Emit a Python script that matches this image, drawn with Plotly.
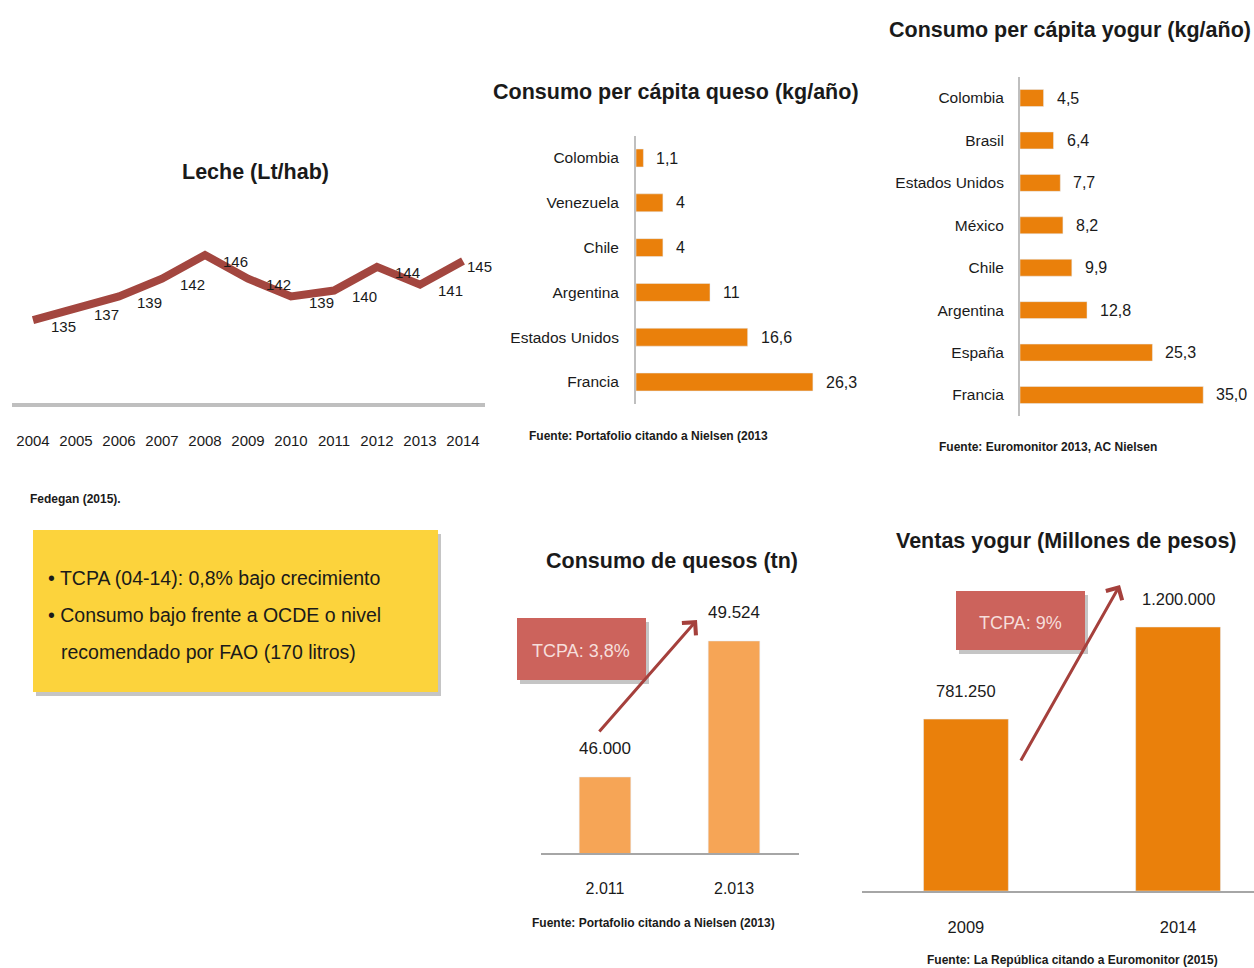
import plotly.graph_objects as go

# Leche (Lt/hab)
anios_leche = ["2004", "2005", "2006", "2007", "2008", "2009", "2010", "2011", "2012", "2013", "2014"]
leche = [135, 137, 139, 142, 146, 142, 139, 140, 144, 141, 145]

# Consumo per cápita queso (kg/año)
paises_queso = ["Colombia", "Venezuela", "Chile", "Argentina", "Estados Unidos", "Francia"]
queso = [1.1, 4, 4, 11, 16.6, 26.3]

# Consumo per cápita yogur (kg/año)
paises_yogur = ["Colombia", "Brasil", "Estados Unidos", "México", "Chile", "Argentina", "España", "Francia"]
yogur = [4.5, 6.4, 7.7, 8.2, 9.9, 12.8, 25.3, 35.0]

# Consumo de quesos (tn)
anios_quesos = ["2.011", "2.013"]
quesos_tn = [46000, 49524]

# Ventas yogur (Millones de pesos)
anios_ventas = ["2009", "2014"]
ventas = [781250, 1200000]

W, H = 1254, 968
FONT = "Liberation Sans, Arial, sans-serif"
NARANJA = "#EA800B"
NARANJA_CLARO = "#F6A556"
TXT = "#1a1a1a"


def px(x):
    return x / W


def py(y):
    return 1 - y / H


def miles(v):
    return f"{v:,}".replace(",", ".")


def coma(v, fmt):
    return format(v, fmt).replace(".", ",")


fig = go.Figure()

# --- ligne lait
fig.add_trace(go.Scatter(
    x=anios_leche, y=leche, mode="lines",
    line=dict(color="#A3463F", width=8),
    xaxis="x", yaxis="y", hoverinfo="skip",
))

# --- barres fromage
fig.add_trace(go.Bar(
    x=queso, y=paises_queso, orientation="h", width=0.4,
    marker=dict(color=NARANJA), xaxis="x2", yaxis="y2",
))

# --- barres yaourt
fig.add_trace(go.Bar(
    x=yogur, y=paises_yogur, orientation="h", width=0.4,
    marker=dict(color=NARANJA), xaxis="x3", yaxis="y3",
))

# --- consommation fromages (tn)
fig.add_trace(go.Bar(
    x=anios_quesos, y=quesos_tn, width=0.4,
    marker=dict(color=NARANJA_CLARO), xaxis="x4", yaxis="y4",
))

# --- ventes yaourt
fig.add_trace(go.Bar(
    x=anios_ventas, y=ventas, width=0.4,
    marker=dict(color=NARANJA), xaxis="x5", yaxis="y5",
))

ann = []

# étiquettes des valeurs (axes catégoriels : position = rang de la catégorie)
for i, v in enumerate(leche):
    dernier = i == len(leche) - 1
    ann.append(dict(x=i, y=v, xref="x", yref="y", text=str(v), showarrow=False,
                    xshift=16 if dernier else 30, yshift=-6,
                    font=dict(size=15, color=TXT)))
for p, v in zip(paises_queso, queso):
    ann.append(dict(x=v, y=p, xref="x2", yref="y2", text=coma(v, "g"), showarrow=False,
                    xanchor="left", xshift=11, font=dict(size=16, color=TXT)))
for p, v in zip(paises_yogur, yogur):
    ann.append(dict(x=v, y=p, xref="x3", yref="y3", text=coma(v, ".1f"), showarrow=False,
                    xanchor="left", xshift=11, font=dict(size=16, color=TXT)))
for i, v in enumerate(quesos_tn):
    ann.append(dict(x=i, y=v, xref="x4", yref="y4", text=miles(v), showarrow=False,
                    yanchor="bottom", yshift=17, font=dict(size=17, color=TXT)))
for i, v in enumerate(ventas):
    ann.append(dict(x=i, y=v, xref="x5", yref="y5", text=miles(v), showarrow=False,
                    yanchor="bottom", yshift=17, font=dict(size=16.5, color=TXT)))


def texte(x, y, t, size, bold=False, xanchor="center", color=TXT):
    ann.append(dict(x=px(x), y=py(y), xref="paper", yref="paper", showarrow=False,
                    text=f"<b>{t}</b>" if bold else t, xanchor=xanchor, yanchor="middle",
                    font=dict(size=size, color=color)))


# titres
texte(255, 172, "Leche (Lt/hab)", 21.5, True)
texte(676, 92, "Consumo per cápita queso (kg/año)", 21.5, True)
texte(1070, 30, "Consumo per cápita yogur (kg/año)", 21.5, True)
texte(672, 561, "Consumo de quesos (tn)", 21.5, True)
texte(1066, 541, "Ventas yogur (Millones de pesos)", 21.5, True)

# sources
texte(28, 499, "Fedegan (2015).", 12, True, "left")
texte(648, 436, "Fuente: Portafolio citando a Nielsen (2013", 12, True)
texte(1048, 447, "Fuente: Euromonitor 2013, AC Nielsen", 12, True)
texte(653, 923, "Fuente: Portafolio citando a Nielsen (2013)", 12, True)
texte(1072, 960, "Fuente: La República citando a Euromonitor (2015)", 12, True)

# encadré jaune
texte(46, 578, "• TCPA (04-14): 0,8% bajo crecimiento", 19.5, False, "left")
texte(46, 615, "• Consumo bajo frente a OCDE o nivel", 19.5, False, "left")
texte(59, 652, "recomendado por FAO (170 litros)", 19.5, False, "left")

# boîtes TCPA
texte(581, 651, "TCPA: 3,8%", 18, False, "center", "#F6DEDB")
texte(1020, 623, "TCPA: 9%", 18, False, "center", "#F6DEDB")

# flèches
for (hx, hy), (tx, ty) in [((697, 620), (598, 733)), ((1120, 585), (1020, 762))]:
    ann.append(dict(x=px(hx), y=py(hy), xref="paper", yref="paper", text="",
                    showarrow=True, axref="pixel", ayref="pixel", ax=tx - hx, ay=ty - hy,
                    arrowhead=4, arrowsize=1.2, arrowwidth=3, arrowcolor="#A5403C"))


def boite(x0, y0, x1, y1, couleur):
    return [
        dict(type="rect", xref="paper", yref="paper", x0=px(x0 + 3), x1=px(x1 + 3),
             y0=py(y1 + 4), y1=py(y0 + 4), fillcolor="rgba(90,90,90,0.35)",
             line=dict(width=0), layer="below"),
        dict(type="rect", xref="paper", yref="paper", x0=px(x0), x1=px(x1),
             y0=py(y1), y1=py(y0), fillcolor=couleur, line=dict(width=0), layer="below"),
    ]


shapes = boite(33, 530, 438, 692, "#FCD33C")
shapes += boite(517, 618, 646, 680, "#CC635C")
shapes += boite(956, 591, 1085, 650, "#CC635C")

cache = dict(visible=False, showgrid=False, zeroline=False)


def ligne_cat(size):
    return dict(showline=True, showgrid=False, zeroline=False, ticks="",
                tickfont=dict(size=size, color=TXT))


fig.update_layout(
    width=W, height=H, margin=dict(l=0, r=0, t=0, b=0),
    paper_bgcolor="white", plot_bgcolor="rgba(0,0,0,0)",
    showlegend=False, separators=",.",
    font=dict(family=FONT, color=TXT),
    xaxis=dict(domain=[px(11.5), px(484.5)], type="category", range=[-0.5, 10.5],
               anchor="y", linecolor="#BFBFBF", linewidth=4, ticklabelstandoff=21,
               **ligne_cat(15)),
    yaxis=dict(domain=[py(403), py(200)], range=[121, 155.3], anchor="x", **cache),
    xaxis2=dict(domain=[px(636), px(860)], range=[0, 33.3], anchor="y2", **cache),
    yaxis2=dict(domain=[py(404.4), py(135.6)], type="category", range=[5.5, -0.5],
                anchor="x2", linecolor="#BFBFBF", linewidth=2, ticklabelstandoff=12,
                **ligne_cat(15.5)),
    xaxis3=dict(domain=[px(1020), 1.0], range=[0, 44.7], anchor="y3", **cache),
    yaxis3=dict(domain=[py(416.2), py(76.8)], type="category", range=[7.5, -0.5],
                anchor="x3", linecolor="#BFBFBF", linewidth=2, ticklabelstandoff=11,
                **ligne_cat(15.5)),
    xaxis4=dict(domain=[px(540.5), px(798.5)], type="category", range=[-0.5, 1.5],
                anchor="y4", linecolor="#A6A6A6", linewidth=2, ticklabelstandoff=20,
                **ligne_cat(16)),
    yaxis4=dict(domain=[py(853), py(600)], range=[44030, 50586], anchor="x4", **cache),
    xaxis5=dict(domain=[px(862), 1.0], type="category", range=[-0.49, 1.358],
                anchor="y5", linecolor="#A6A6A6", linewidth=2, ticklabelstandoff=20,
                **ligne_cat(16.5)),
    yaxis5=dict(domain=[py(891), py(560)], range=[0, 1504545], anchor="x5", **cache),
    annotations=ann,
    shapes=shapes,
)

fig.write_html("out.html", config={"displayModeBar": False},
               post_script="document.body.style.margin='0';")
